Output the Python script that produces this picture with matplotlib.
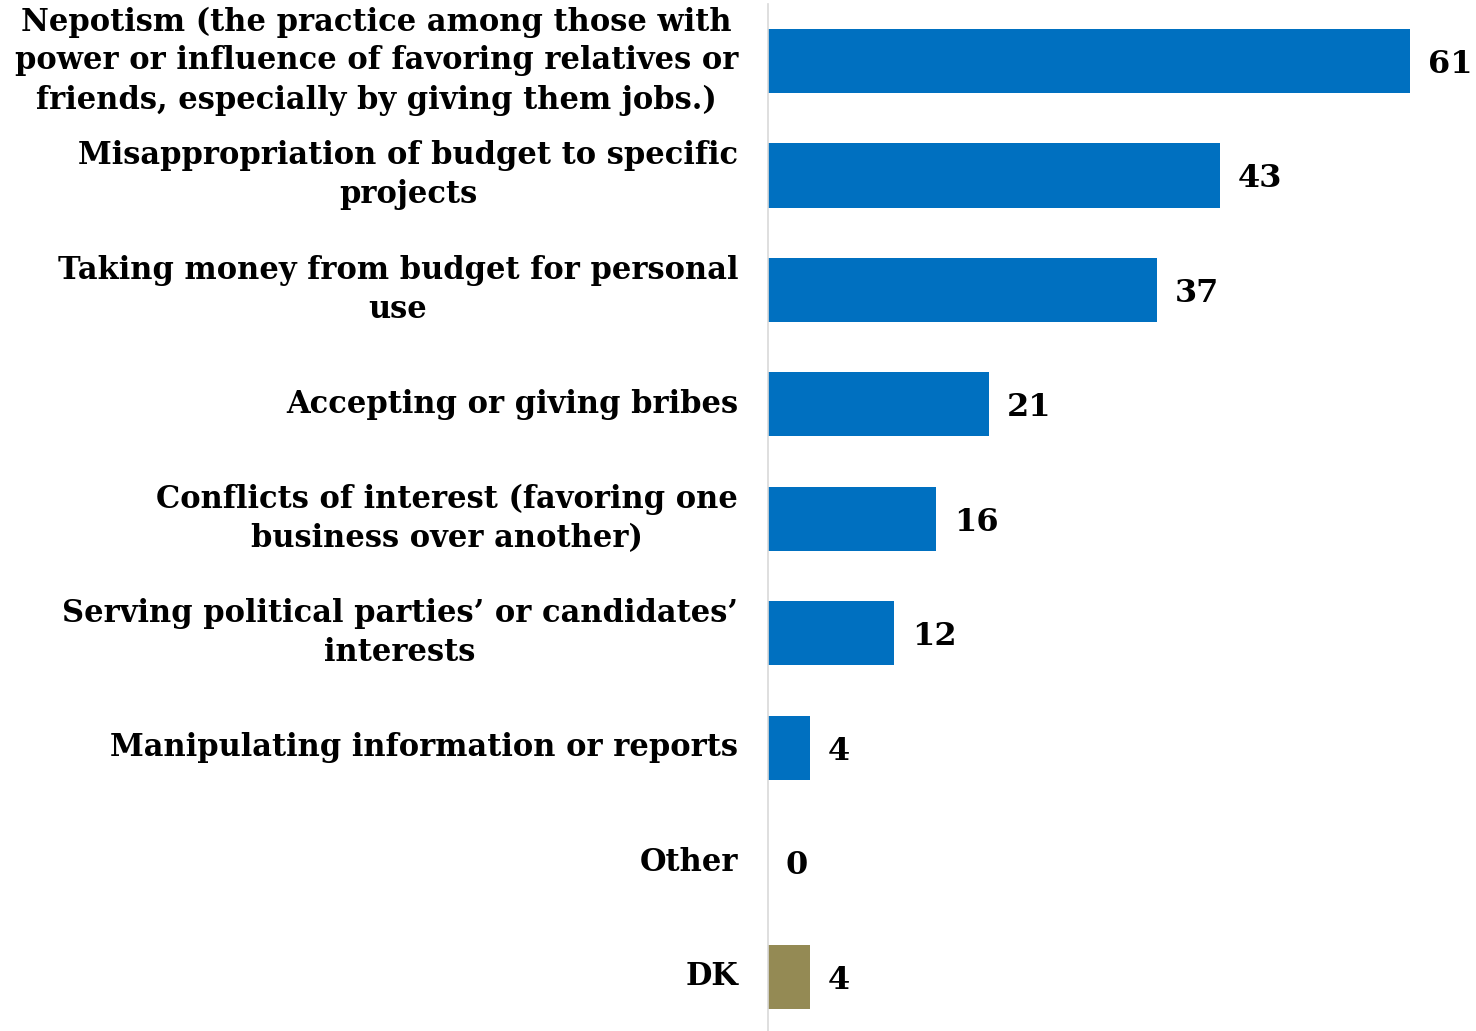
import numpy as np
from matplotlib import pyplot as plt

plt.rcParams['font.family'] = ['DejaVu Serif']

categories = [
    'Nepotism (the practice among those with\npower or influence of favoring relatives or\nfriends, especially by giving them jobs.)',
    'Misappropriation of budget to specific\nprojects',
    'Taking money from budget for personal\nuse',
    'Accepting or giving bribes',
    'Conflicts of interest (favoring one\nbusiness over another)',
    "Serving political parties\u2019 or candidates\u2019\ninterests",
    'Manipulating information or reports',
    'Other',
    'DK',
]
values = [61, 43, 37, 21, 16, 12, 4, 0, 4]
colors = ['#0070C0'] * 8 + ['#948A54']

fig = plt.figure(figsize=(14.76, 10.31), dpi=100)
# axes spans pixel rows 3.75 .. 1034 (slightly past the bottom edge)
ax = fig.add_axes([768 / 1476, -3 / 1031, 1 - 768 / 1476, (1034 - 3.75) / 1031])

y = np.arange(len(categories))
ax.barh(y, values, height=0.56, color=colors)
ax.set_ylim(len(categories) - 0.5, -0.5)
ax.set_xlim(0, 67.3)

ax.set_yticks(y)
ax.set_yticklabels(categories, fontsize=22, fontweight='bold',
                   multialignment='center', linespacing=1.33, va='center')
ax.tick_params(axis='y', length=0, pad=21.5)
ax.set_xticks([])

for s in ['top', 'right', 'bottom']:
    ax.spines[s].set_visible(False)
ax.spines['left'].set_color('#d9d9d9')
ax.spines['left'].set_linewidth(1.2)

for yi, v in zip(y, values):
    ax.text(v + 1.7, yi, str(v), va='center_baseline', ha='left',
            fontsize=23, fontweight='bold')

fig.savefig('out.png', dpi=100)
